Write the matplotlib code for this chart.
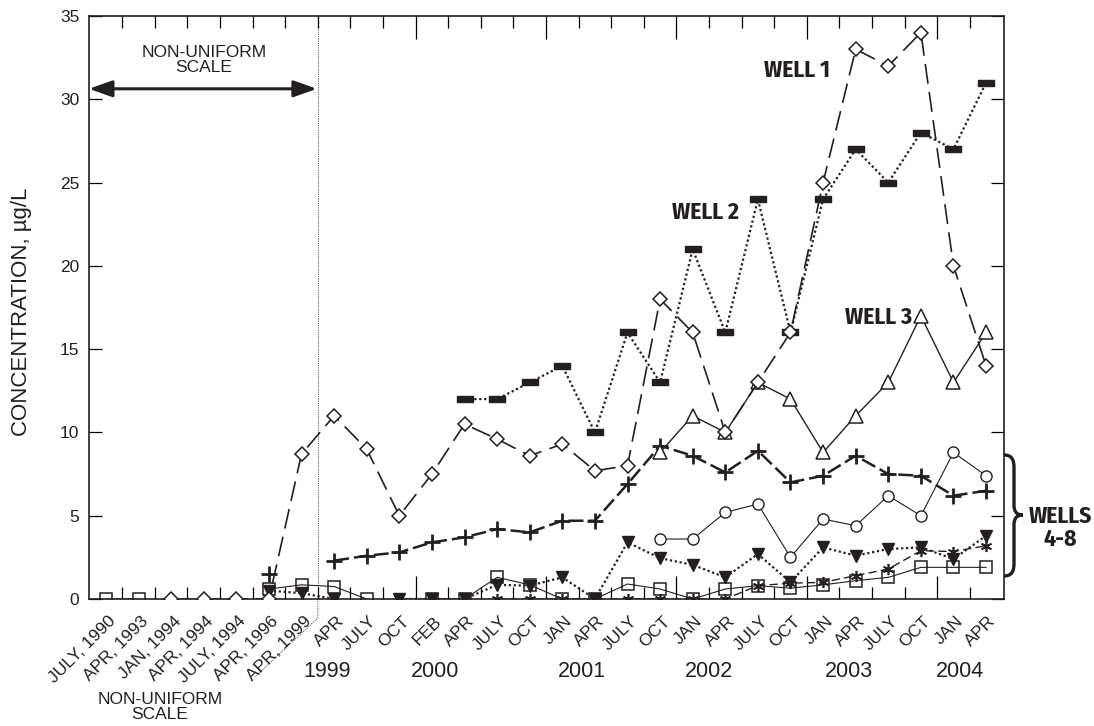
import numpy as np
import matplotlib
matplotlib.use("Agg")
import matplotlib.pyplot as plt
from matplotlib.path import Path
from matplotlib.patches import PathPatch
from matplotlib.transforms import blended_transform_factory

nan = np.nan

# sampling dates (categorical positions on the x axis)
tick_labels = ["JULY, 1990", "APR, 1993", "JAN, 1994", "APR, 1994", "JULY, 1994",
               "APR, 1996", "APR, 1999",
               "APR", "JULY", "OCT", "FEB", "APR", "JULY", "OCT",
               "JAN", "APR", "JULY", "OCT", "JAN", "APR", "JULY", "OCT",
               "JAN", "APR", "JULY", "OCT", "JAN", "APR"]
year_labels = ["1999", "2000", "2001", "2002", "2003", "2004"]

# concentrations, ug/L
well1 = [nan, nan, 0, 0, 0, 0, 8.7, 11, 9, 5, 7.5, 10.5, 9.6, 8.6, 9.3, 7.7, 8,
         18, 16, 10, 13, 16, 25, 33, 32, 34, 20, 14]
well2 = [nan] * 11 + [12, 12, 13, 14, 10, 16, 13, 21, 16, 24, 16, 24, 27, 25, 28, 27, 31]
well3 = [nan] * 17 + [8.8, 11, 10, 13, 12, 8.8, 11, 13, 17, 13, 16]
well_plus = [nan] * 5 + [1.5, nan, 2.3, 2.6, 2.8, 3.4, 3.7, 4.2, 4.0, 4.7, 4.7, 6.9,
                         9.2, 8.6, 7.6, 8.9, 7.0, 7.4, 8.6, 7.5, 7.4, 6.2, 6.5]
well_circle = [nan] * 17 + [3.6, 3.6, 5.2, 5.7, 2.5, 4.8, 4.4, 6.2, 5.0, 8.8, 7.4]
well_tri = [nan] * 5 + [0.5, 0.35, 0, nan, 0, 0, 0, 0.85, 0.8, 1.3, 0, 3.4, 2.45,
                        2.05, 1.3, 2.7, 1.0, 3.1, 2.6, 3.0, 3.1, 2.4, 3.8]
well_star = [nan] * 12 + [0, 0, 0, 0, 0, 0, 0, 0, 0.8, 0.95, 1.0, 1.4, 1.8, 2.9, 2.85, 3.2]
well_square = [0, 0, nan, nan, nan, 0.6, 0.85, 0.75, 0, nan, 0, 0, 1.3, 0.85, 0, 0,
               0.9, 0.6, 0, 0.6, 0.8, 0.65, 0.85, 1.1, 1.3, 1.9, 1.9, 1.9]

ink = "#231f20"
plt.rcParams["font.family"] = ["Liberation Sans", "DejaVu Sans"]
bold_font = ["Fira Sans Condensed", "IBM Plex Sans Condensed", "Barlow Condensed",
             "Saira SemiCondensed", "Liberation Sans"]

W, H = 1094, 726
fig = plt.figure(figsize=(W / 100, H / 100), dpi=100)
ax = fig.add_axes([89 / W, 1 - 599 / H, (1004 - 89) / W, (599 - 16) / H])

x = np.arange(len(tick_labels))
rect = [(-1, -0.45), (1, -0.45), (1, 0.45), (-1, 0.45), (-1, -0.45)]

ax.plot(x, well_square, color=ink, lw=0.8, marker="s", ms=9, mfc="none", mec=ink, mew=1.1, zorder=3)
ax.plot(x, well_star, color=ink, lw=1.0, ls=(0, (6, 3)), marker=(6, 2, 0), ms=8, mec=ink, mew=1.2, zorder=4)
ax.plot(x, well_tri, color=ink, lw=1.6, ls=(0, (1, 1.2)), marker="v", ms=8, mfc=ink, mec=ink, zorder=4)
ax.plot(x, well_circle, color=ink, lw=0.8, marker="o", ms=8, mfc="white", mec=ink, mew=1.0, zorder=4)
ax.plot(x, well_plus, color=ink, lw=1.8, ls=(0, (6, 2)), marker="+", ms=11, mec=ink, mew=2.0, zorder=4)
ax.plot(x, well3, color=ink, lw=1.0, marker="^", ms=10, mfc="white", mec=ink, mew=1.1, zorder=4)
ax.plot(x, well2, color=ink, lw=1.6, ls=(0, (1, 1.2)), marker=rect, ms=11, mfc=ink, mec=ink, zorder=5)
ax.plot(x, well1, color=ink, lw=1.2, ls=(0, (12, 5)), marker="D", ms=7, mfc="white", mec=ink, mew=1.1, zorder=5)

ax.set_xlim(-0.52, 27.55)
ax.set_ylim(0, 35)
ax.set_yticks(np.arange(0, 36, 5))
ax.tick_params(axis="y", direction="in", length=9.4, width=0.9, right=True,
               labelsize=12.5, labelcolor=ink, pad=7)

# x ticks: tall ones at the year boundaries, short ones between samples
year_bounds = [9.5, 13.5, 17.5, 21.5, 25.5]
ax.set_xticks(year_bounds)
ax.set_xticks(np.arange(0.5, 27, 1), minor=True)
ax.tick_params(axis="x", which="both", direction="in", top=True, bottom=True,
               labelbottom=False, width=0.9)
ax.tick_params(axis="x", which="major", length=16.5)
ax.tick_params(axis="x", which="minor", length=8.6)
for s in ax.spines.values():
    s.set_linewidth(1.2)
    s.set_color(ink)

for i, lab in enumerate(tick_labels):
    ax.annotate(lab, xy=(i, 0), xycoords=("data", "axes fraction"), xytext=(1.5, -10.5),
                textcoords="offset points", rotation=45, ha="right", va="top",
                rotation_mode="anchor", fontsize=12.5, color=ink, annotation_clip=False)

bt = blended_transform_factory(ax.transData, ax.transAxes)
for xp, lab in zip([6.8, 10.1, 14.6, 18.5, 22.8, 26.2], year_labels):
    ax.text(xp, -0.125, lab, transform=bt, ha="center", va="center", fontsize=15.5, color=ink)

# boundary of the non-uniform part of the time scale
ax.axvline(6.5, color="#666666", lw=0.8, ls=(0, (1, 1)), zorder=1)
ax.plot([6.5, 6.5, 4.57], [0, -1.14, -4.68], color="#666666", lw=0.8, ls=(0, (1, 1)),
        clip_on=False)
ax.annotate("", xy=(-0.52, 30.63), xytext=(6.47, 30.63),
            arrowprops=dict(arrowstyle="<|-|>,head_length=0.7,head_width=0.25",
                            mutation_scale=20, lw=2.2, color=ink, shrinkA=0, shrinkB=0))
ax.text(3.0, 32.35, "NON-UNIFORM\nSCALE", ha="center", va="center", fontsize=12.5,
        color=ink, linespacing=1.05)
fig.text(160 / W, 1 - 707 / H, "NON-UNIFORM\nSCALE", ha="center", va="center",
         fontsize=12.5, color=ink, linespacing=1.05)

ax.text(21.2, 31.75, "WELL 1", ha="center", va="center", fontsize=17, fontweight="bold",
        family=bold_font, color=ink)
ax.text(18.4, 23.2, "WELL 2", ha="center", va="center", fontsize=17, fontweight="bold",
        family=bold_font, color=ink)
ax.text(23.7, 16.9, "WELL 3", ha="center", va="center", fontsize=17, fontweight="bold",
        family=bold_font, color=ink)


def px(xp, yp):
    return (xp / W, 1 - yp / H)


verts = [px(1004, 455), px(1012, 455), px(1014, 460), px(1014, 468),
         px(1014, 505),
         px(1014, 512), px(1017, 515), px(1023, 515),
         px(1017, 515), px(1014, 518), px(1014, 525),
         px(1014, 563),
         px(1014, 571), px(1012, 576), px(1004, 576)]
codes = [Path.MOVETO, Path.CURVE4, Path.CURVE4, Path.CURVE4,
         Path.LINETO,
         Path.CURVE4, Path.CURVE4, Path.CURVE4,
         Path.CURVE4, Path.CURVE4, Path.CURVE4,
         Path.LINETO,
         Path.CURVE4, Path.CURVE4, Path.CURVE4]
fig.patches.append(PathPatch(Path(verts, codes), transform=fig.transFigure, fill=False,
                             lw=2.4, edgecolor=ink))
fig.text(1060 / W, 1 - 528 / H, "WELLS\n4-8", ha="center", va="center", fontsize=17,
         fontweight="bold", family=bold_font, color=ink, linespacing=1.0)

fig.text(22 / W, 1 - 312 / H, "CONCENTRATION, \u00b5g/L", rotation=90, ha="center",
         va="center", fontsize=16, color=ink)

fig.savefig("out.png", dpi=100)
